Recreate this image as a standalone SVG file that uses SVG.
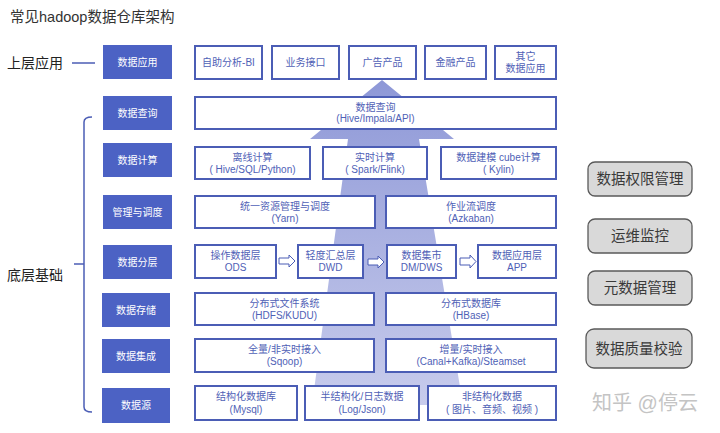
<svg xmlns="http://www.w3.org/2000/svg" width="720" height="433" viewBox="0 0 720 433">
<defs>
<linearGradient id="flow" x1="0" y1="80" x2="0" y2="405" gradientUnits="userSpaceOnUse">
<stop offset="0" stop-color="#8e98d7"/>
<stop offset="1" stop-color="#c8ccec"/>
</linearGradient>
<style>
text{font-family:"Liberation Sans","Noto Sans CJK SC",sans-serif;text-anchor:middle}
.lb{fill:#4c62c4}
.lt{fill:#ffffff;font-size:10px}
.wb{fill:#ffffff;stroke:#4b5db5;stroke-width:2}
.wt{fill:#4f61b6;font-size:10px}
.gb{fill:#d9d9d9;stroke:#5a5a5a;stroke-width:1.3}
.gt{fill:#3a3a3a;font-size:14.5px}
.ln{fill:none;stroke:#4b5db5;stroke-width:1.5}
.ha{fill:#ffffff;stroke:#4b5db5;stroke-width:1}
.side{fill:#222;font-size:14px;text-anchor:start}
</style>
</defs>
<rect width="720" height="433" fill="#ffffff"/>
<text x="10" y="22" style="font-size:14.5px;fill:#333;text-anchor:start">常见hadoop数据仓库架构</text>
<text class="side" x="7" y="68">上层应用</text>
<text class="side" x="7" y="280">底层基础</text>

<g id="connectors">
<path d="M382,80 L454,139 L419,139 L463,405 L312,405 L348,139 L310,139 Z" fill="url(#flow)"/>
<path class="ln" d="M72,63 L95,63"/>
<path class="ln" d="M92,117 Q84,117 84,122 L84,407 Q84,412 92,412"/>
<path class="ln" d="M74,264 L84,264"/>
<polygon class="ha" points="279,258 289,258 289,255 295,261 289,267 289,264 279,264"/>
<polygon class="ha" points="368,259 378,259 378,256 384,262 378,268 378,265 368,265"/>
<polygon class="ha" points="460,258 470,258 470,255 476,261.5 470,268 470,265 460,265"/>
</g>

<g id="l-app"><rect class="lb" x="103" y="45" width="69" height="34"/><text class="lt" x="137.5" y="65.5">数据应用</text></g>
<g id="l-query"><rect class="lb" x="103" y="96" width="69" height="34"/><text class="lt" x="137.5" y="116.5">数据查询</text></g>
<g id="l-compute"><rect class="lb" x="103" y="143" width="69" height="34"/><text class="lt" x="137.5" y="163.5">数据计算</text></g>
<g id="l-manage"><rect class="lb" x="103" y="195" width="69" height="34"/><text class="lt" x="137.5" y="215.5">管理与调度</text></g>
<g id="l-layer"><rect class="lb" x="103" y="245" width="69" height="34"/><text class="lt" x="137.5" y="265.5">数据分层</text></g>
<g id="l-storage"><rect class="lb" x="102" y="293" width="68" height="34"/><text class="lt" x="136" y="313.5">数据存储</text></g>
<g id="l-integ"><rect class="lb" x="102" y="339" width="68" height="34"/><text class="lt" x="136" y="359.5">数据集成</text></g>
<g id="l-source"><rect class="lb" x="102" y="388" width="68" height="35"/><text class="lt" x="136" y="409">数据源</text></g>

<g id="bi"><rect class="wb" x="195" y="46" width="67" height="33"/><text class="wt" x="228.5" y="66">自助分析-BI</text></g>
<g id="api"><rect class="wb" x="272" y="46" width="67" height="33"/><text class="wt" x="305.5" y="66">业务接口</text></g>
<g id="ads"><rect class="wb" x="349" y="46" width="67" height="33"/><text class="wt" x="382.5" y="66">广告产品</text></g>
<g id="fin"><rect class="wb" x="425" y="46" width="61" height="33"/><text class="wt" x="455.5" y="66">金融产品</text></g>
<g id="other"><rect class="wb" x="495" y="46" width="61" height="33"/><text class="wt" x="525.5" y="59.5">其它</text><text class="wt" x="525.5" y="71.5">数据应用</text></g>

<g id="query"><rect class="wb" x="195" y="97" width="361" height="32"/><text class="wt" x="375.5" y="110.5">数据查询</text><text class="wt" x="375.5" y="122">(Hive/Impala/API)</text></g>

<g id="offline"><rect class="wb" x="195" y="147" width="115" height="32"/><text class="wt" x="252.5" y="161">离线计算</text><text class="wt" x="252.5" y="173">( Hive/SQL/Python)</text></g>
<g id="realtime"><rect class="wb" x="323" y="147" width="104" height="32"/><text class="wt" x="375" y="161">实时计算</text><text class="wt" x="375" y="173">( Spark/Flink)</text></g>
<g id="kylin"><rect class="wb" x="441" y="147" width="115" height="32"/><text class="wt" x="498.5" y="161">数据建模 cube计算</text><text class="wt" x="498.5" y="173">( Kylin)</text></g>

<g id="yarn"><rect class="wb" x="195" y="196" width="180" height="32"/><text class="wt" x="285" y="210">统一资源管理与调度</text><text class="wt" x="285" y="222">(Yarn)</text></g>
<g id="azkaban"><rect class="wb" x="386" y="196" width="170" height="32"/><text class="wt" x="471" y="210">作业流调度</text><text class="wt" x="471" y="222">(Azkaban)</text></g>

<g id="ods"><rect class="wb" x="195" y="245" width="81" height="33"/><text class="wt" x="235.5" y="259">操作数据层</text><text class="wt" x="235.5" y="271">ODS</text></g>
<g id="dwd"><rect class="wb" x="298" y="245" width="65" height="33"/><text class="wt" x="330.5" y="259">轻度汇总层</text><text class="wt" x="330.5" y="271">DWD</text></g>
<g id="dws"><rect class="wb" x="387" y="245" width="69" height="33"/><text class="wt" x="421.5" y="259">数据集市</text><text class="wt" x="421.5" y="271">DM/DWS</text></g>
<g id="appl"><rect class="wb" x="478" y="245" width="78" height="33"/><text class="wt" x="517" y="259">数据应用层</text><text class="wt" x="517" y="271">APP</text></g>

<g id="hdfs"><rect class="wb" x="195" y="293" width="179" height="32"/><text class="wt" x="284.5" y="307">分布式文件系统</text><text class="wt" x="284.5" y="319">(HDFS/KUDU)</text></g>
<g id="hbase"><rect class="wb" x="386" y="293" width="170" height="32"/><text class="wt" x="471" y="307">分布式数据库</text><text class="wt" x="471" y="319">(HBase)</text></g>

<g id="sqoop"><rect class="wb" x="195" y="339" width="179" height="33"/><text class="wt" x="284.5" y="353">全量/非实时接入</text><text class="wt" x="284.5" y="365">(Sqoop)</text></g>
<g id="kafka"><rect class="wb" x="386" y="339" width="170" height="33"/><text class="wt" x="471" y="353">增量/实时接入</text><text class="wt" x="471" y="365">(Canal+Kafka)/Steamset</text></g>

<g id="mysql"><rect class="wb" x="195" y="386" width="102" height="34"/><text class="wt" x="246" y="400">结构化数据库</text><text class="wt" x="246" y="412.5">(Mysql)</text></g>
<g id="log"><rect class="wb" x="305" y="386" width="114" height="34"/><text class="wt" x="362" y="400">半结构化/日志数据</text><text class="wt" x="362" y="412.5">(Log/Json)</text></g>
<g id="unstruct"><rect class="wb" x="428" y="386" width="128" height="34"/><text class="wt" x="492" y="400">非结构化数据</text><text class="wt" x="492" y="412.5">( 图片、音频、视频 )</text></g>

<g id="perm"><rect class="gb" x="588" y="162" width="104" height="34" rx="7"/><text class="gt" x="640" y="184">数据权限管理</text></g>
<g id="ops"><rect class="gb" x="588" y="219" width="104" height="34" rx="7"/><text class="gt" x="640" y="241">运维监控</text></g>
<g id="meta"><rect class="gb" x="588" y="271" width="104" height="34" rx="7"/><text class="gt" x="640" y="293">元数据管理</text></g>
<g id="quality"><rect class="gb" x="586" y="329" width="106" height="39" rx="8"/><text class="gt" x="639" y="354">数据质量校验</text></g>

<text x="645" y="410" style="font-size:20px;fill:#c4c4c4">知乎 @停云</text>
</svg>
